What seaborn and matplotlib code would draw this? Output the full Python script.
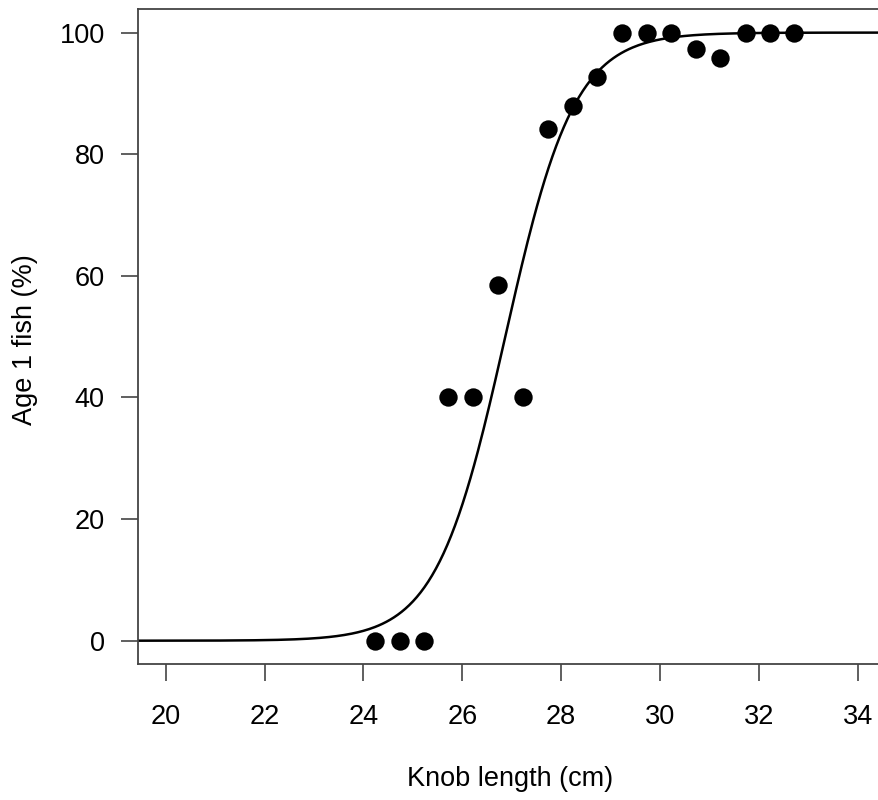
import numpy as np
import pandas as pd
import matplotlib
matplotlib.use("Agg")
import matplotlib.pyplot as plt
import seaborn as sns

# Observed data
knob_length = [24.23, 24.73, 25.22, 25.72, 26.22, 26.73, 27.22, 27.73, 28.23,
               28.73, 29.23, 29.73, 30.23, 30.72, 31.22, 31.73, 32.23, 32.72]
age1_pct = [0, 0, 0, 40, 40, 58.5, 40, 84.1, 87.9,
            92.7, 100, 100, 100, 97.3, 95.8, 100, 100, 100]

# Fitted logistic curve parameters
L50 = 26.87
slope = 1.43

x_ticks = [20, 22, 24, 26, 28, 30, 32, 34]
y_ticks = [0, 20, 40, 60, 80, 100]

sns.set_theme(style="white")
plt.rcParams['font.family'] = ['Liberation Sans', 'DejaVu Sans']

W, H = 879, 800
fig = plt.figure(figsize=(W / 100, H / 100), dpi=100)

px_per_unit = 49.43
x20_px = 165.7
left_px, right_px = 138, 900
top_px, bottom_px = 9, 664
xmin = 20 + (left_px - x20_px) / px_per_unit
xmax = 20 + (right_px - x20_px) / px_per_unit
ypx0, ypx100 = 640.7, 32.6
ppy = (ypx0 - ypx100) / 100
ymin = -(bottom_px - ypx0) / ppy
ymax = 100 + (ypx100 - top_px) / ppy

ax = fig.add_axes([left_px / W, (H - bottom_px) / H,
                   (right_px - left_px) / W, (bottom_px - top_px) / H])

xs = np.linspace(xmin, xmax, 400)
curve = pd.DataFrame({"x": xs, "y": 100 / (1 + np.exp(-slope * (xs - L50)))})
sns.lineplot(data=curve, x="x", y="y", ax=ax, color="black", linewidth=1.8)

df = pd.DataFrame({"x": knob_length, "y": age1_pct})
sns.scatterplot(data=df, x="x", y="y", ax=ax, color="black", s=175,
                edgecolor="black", linewidth=0, zorder=3)

ax.set_xlim(xmin, xmax)
ax.set_ylim(ymin, ymax)
ax.set_xticks(x_ticks)
ax.set_yticks(y_ticks)
ax.set_xticklabels([str(t) for t in x_ticks])
ax.set_yticklabels([str(t) for t in y_ticks])

for s in ax.spines.values():
    s.set_color("#444444")
    s.set_linewidth(1.3)
ax.tick_params(axis="both", which="major", direction="out", length=12,
               width=1.2, color="#444444", labelsize=19.5, labelcolor="black",
               bottom=True, left=True, pad=12)
ax.tick_params(axis="x", pad=17)

ax.set_xlabel("Knob length (cm)", fontsize=19.5, color="black")
ax.set_ylabel("Age 1 fish (%)", fontsize=19.5, color="black")
ax.xaxis.set_label_coords((510 - left_px) / (right_px - left_px),
                          -(779 - bottom_px) / (bottom_px - top_px))
ax.xaxis.label.set_verticalalignment("center")
ax.yaxis.set_label_coords(-(left_px - 25) / (right_px - left_px),
                          (bottom_px - 340) / (bottom_px - top_px))
ax.yaxis.label.set_verticalalignment("center")
ax.grid(False)

fig.savefig("out.png", dpi=100)
